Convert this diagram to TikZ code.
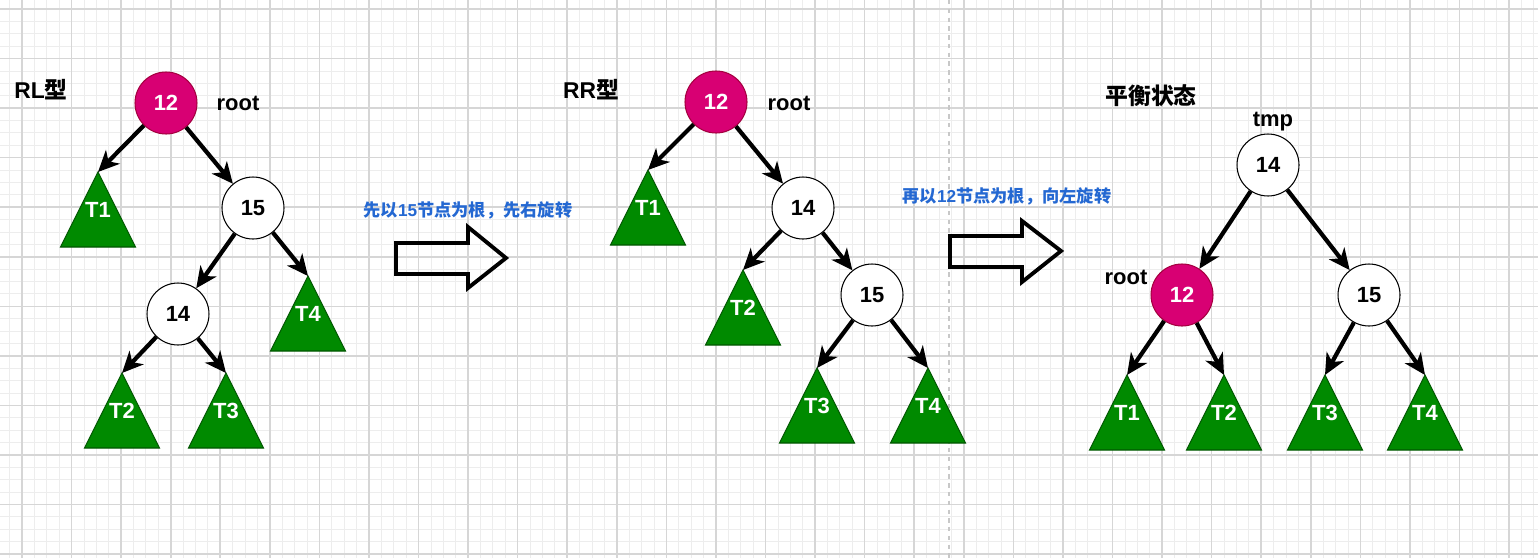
\documentclass[tikz,border=0pt]{standalone}
\usepackage{fontspec}
\setmainfont{Liberation Sans}
\newfontfamily\cjk{Noto Sans CJK SC}
\usetikzlibrary{arrows.meta}
\definecolor{mag}{HTML}{D80073}
\definecolor{magline}{HTML}{A50040}
\definecolor{grn}{HTML}{008A00}
\definecolor{grnline}{HTML}{005700}
\definecolor{notecol}{HTML}{2468D2}
\definecolor{gmajor}{HTML}{D6D6D6}
\definecolor{gminor}{HTML}{EDEDED}
\definecolor{dashcol}{HTML}{C8C8C8}
\tikzset{
  wnode/.style={circle, draw=black, line width=0.6pt, fill=white, minimum size=1.24cm, inner sep=0pt,
    font=\bfseries\fontsize{12.5}{14}\selectfont},
  rnode/.style={wnode, fill=mag, draw=magline, text=white},
  edge/.style={line width=2.4pt, -{Stealth[length=12pt,width=11pt,inset=3.5pt]}},
  tritext/.style={text=white, font=\bfseries\fontsize{12.5}{14}\selectfont, inner sep=0pt},
  tri/.style={fill=grn, draw=grnline, line width=0.6pt},
  lbl/.style={font=\bfseries\fontsize{13}{15}\selectfont, inner sep=0pt},
  rootlbl/.style={font=\bfseries\fontsize{12.5}{14}\selectfont, inner sep=0pt},
  notelbl/.style={text=notecol, font=\bfseries\fontsize{9.8}{12}\selectfont, inner sep=0pt},
  bigarrow/.style={line width=2.2pt, line join=miter},
}
\newcommand{\subtri}[4]{%
  \coordinate (#1top) at (#2,#3);
  \filldraw[tri] (#2,#3) -- ++(37.5,75) -- ++(-75,0) -- cycle;
  \node[tritext] (#1) at (#2,#3+38) {#4};
}
\begin{document}
\begin{tikzpicture}[x=0.02cm, y=-0.02cm]
\useasboundingbox (0,0) rectangle (1538,558);
\fill[white] (0,0) rectangle (1538,558);
% grid
\foreach \i in {-1,...,122} {
  \pgfmathsetmacro\gx{22+\i*12.3925}
  \draw[gminor, line width=0.5pt] (\gx,0) -- (\gx,558);
}
\foreach \i in {0,...,44} {
  \pgfmathsetmacro\gy{9+\i*12.3875}
  \draw[gminor, line width=0.5pt] (0,\gy) -- (1538,\gy);
}
\foreach \i in {0,...,30} {
  \pgfmathsetmacro\gx{22+\i*49.57}
  \draw[gmajor, line width=0.9pt] (\gx,0) -- (\gx,558);
}
\foreach \i in {0,...,11} {
  \pgfmathsetmacro\gy{9+\i*49.55}
  \draw[gmajor, line width=0.9pt] (0,\gy) -- (1538,\gy);
}
\draw[dashcol, line width=0.9pt, dash pattern=on 2.5pt off 2.5pt] (949,0) -- (949,558);

% ---- tree 1 (RL)
\node[lbl] (rl) at (41,90) {RL{\cjk 型}};
\node[rnode] (a12) at (166,103) {12};
\node[rootlbl] (aroot) at (238,103) {root};
\node[wnode] (a15) at (253,208) {15};
\node[wnode] (a14) at (178,314) {14};
\subtri{a1}{98}{172}{T1}
\subtri{a4}{308}{276}{T4}
\subtri{a2}{122}{373}{T2}
\subtri{a3}{226}{373}{T3}
\draw[edge] (a12) -- (a1top);
\draw[edge] (a12) -- (a15);
\draw[edge] (a15) -- (a14);
\draw[edge] (a15) -- (a4top);
\draw[edge] (a14) -- (a2top);
\draw[edge] (a14) -- (a3top);

% ---- arrow 1
\node[notelbl] (n1) at (468,210) {{\cjk 先以}15{\cjk 节点为根，先右旋转}};
\draw[bigarrow] (396,243) -- (468,243) -- (468,227) -- (506,258) -- (468,288) -- (468,274) -- (396,274) -- cycle;

% ---- tree 2 (RR)
\node[lbl] (rr) at (591,90) {RR{\cjk 型}};
\node[rnode] (b12) at (716,102) {12};
\node[rootlbl] (broot) at (789,103) {root};
\node[wnode] (b14) at (803,208) {14};
\node[wnode] (b15) at (872,295) {15};
\subtri{b1}{648}{170}{T1}
\subtri{b2}{743}{270}{T2}
\subtri{b3}{817}{368}{T3}
\subtri{b4}{928}{368}{T4}
\draw[edge] (b12) -- (b1top);
\draw[edge] (b12) -- (b14);
\draw[edge] (b14) -- (b2top);
\draw[edge] (b14) -- (b15);
\draw[edge] (b15) -- (b3top);
\draw[edge] (b15) -- (b4top);

% ---- arrow 2
\node[notelbl] (n2) at (1007,196) {{\cjk 再以}12{\cjk 节点为根，向左旋转}};
\draw[bigarrow] (950,236) -- (1022,236) -- (1022,221) -- (1061,251) -- (1022,282) -- (1022,267) -- (950,267) -- cycle;

% ---- tree 3 (balanced)
\node[lbl] (bal) at (1151,96) {{\cjk 平衡状态}};
\node[rootlbl] (ctmp) at (1273,122) {tmp};
\node[wnode] (c14) at (1268,165) {14};
\node[rnode] (c12) at (1182,295) {12};
\node[rootlbl] (croot) at (1126,277) {root};
\node[wnode] (c15) at (1369,295) {15};
\subtri{c1}{1127}{375}{T1}
\subtri{c2}{1224}{375}{T2}
\subtri{c3}{1325}{375}{T3}
\subtri{c4}{1425}{375}{T4}
\draw[edge] (c14) -- (c12);
\draw[edge] (c14) -- (c15);
\draw[edge] (c12) -- (c1top);
\draw[edge] (c12) -- (c2top);
\draw[edge] (c15) -- (c3top);
\draw[edge] (c15) -- (c4top);
\end{tikzpicture}
\end{document}
